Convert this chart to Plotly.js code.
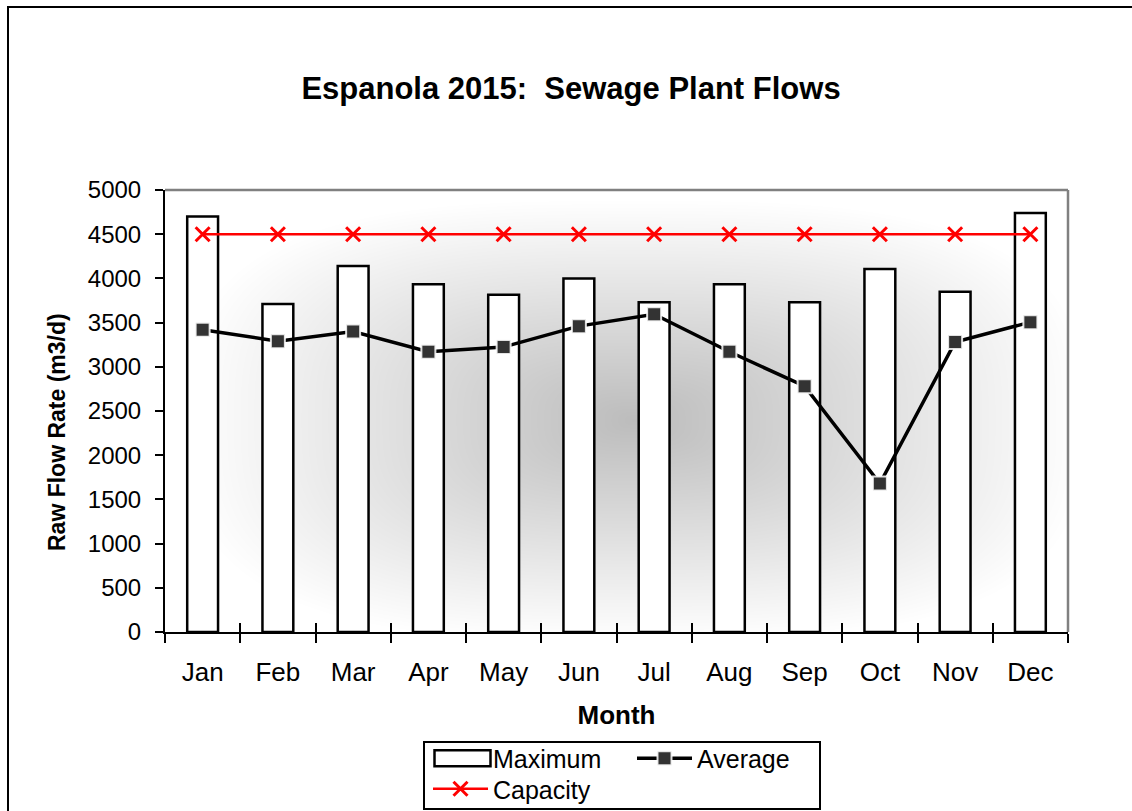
<!DOCTYPE html>
<html>
<head>
<meta charset="utf-8">
<script src="https://cdn.plot.ly/plotly-3.0.1.min.js"></script>
<style>
html,body{margin:0;padding:0;background:#fff;}
#chart{width:1132px;height:811px;}
</style>
</head>
<body>
<div id="chart"></div>
<script>
const months = ["Jan","Feb","Mar","Apr","May","Jun","Jul","Aug","Sep","Oct","Nov","Dec"];
const maximumFlow = [4700, 3710, 4140, 3935, 3815, 4000, 3730, 3935, 3730, 4105, 3850, 4740];
const averageFlow = [3420, 3290, 3400, 3170, 3225, 3460, 3595, 3170, 2780, 1680, 3280, 3505];
const capacityFlow = [4500, 4500, 4500, 4500, 4500, 4500, 4500, 4500, 4500, 4500, 4500, 4500];
const yTicks = [0, 500, 1000, 1500, 2000, 2500, 3000, 3500, 4000, 4500, 5000];

const FONT = "Liberation Sans, Arial, sans-serif";

// plot-area background: grey gradient from centre (style only)
function makeBg(w, h) {
  const c = document.createElement('canvas');
  c.width = w; c.height = h;
  const ctx = c.getContext('2d');
  const img = ctx.createImageData(w, h);
  const cx = w * 0.52, cy = h * 0.52;
  for (let y = 0; y < h; y++) {
    for (let x = 0; x < w; x++) {
      const dx = Math.abs(x - cx) / (w / 2);
      const dy = Math.abs(y - cy) / (h / 2);
      let d = Math.pow(Math.pow(dx, 3) + Math.pow(dy, 3), 1 / 3);
      d = Math.min(1, d);
      const v = Math.round(188 + 67 * d);
      const i = (y * w + x) * 4;
      img.data[i] = v; img.data[i + 1] = v; img.data[i + 2] = v; img.data[i + 3] = 255;
    }
  }
  ctx.putImageData(img, 0, 0);
  return c.toDataURL('image/png');
}

const L = 165, R = 1068, T = 190, B = 632, W = 1132, H = 811;
const pw = R - L, ph = B - T;
const px = v => (v - L) / pw;
const py = v => (B - v) / ph;

const traces = [
  {
    type: 'bar', name: 'Maximum', x: months, y: maximumFlow,
    width: 0.41,
    marker: {color: '#ffffff', line: {color: '#000000', width: 2.5}},
    legend: 'legend', hoverinfo: 'skip'
  },
  {
    type: 'scatter', mode: 'lines+markers', name: 'Average', x: months, y: averageFlow,
    line: {color: '#000000', width: 3.5},
    marker: {symbol: 'square', size: 14, color: '#333333', line: {color: 'rgba(255,255,255,0.85)', width: 2}},
    legend: 'legend', hoverinfo: 'skip'
  },
  {
    type: 'scatter', mode: 'lines+markers', name: 'Capacity', x: months, y: capacityFlow,
    line: {color: '#ff0000', width: 2.5},
    marker: {symbol: 'x-thin', size: 14, color: '#ff0000', line: {color: '#ff0000', width: 3}},
    legend: 'legend2', hoverinfo: 'skip'
  },
  {
    type: 'scatter', mode: 'markers', x: months, y: maximumFlow, xaxis: 'x2',
    marker: {opacity: 0}, showlegend: false, hoverinfo: 'skip'
  }
];

const layout = {
  width: W, height: H,
  margin: {l: L, r: W - R, t: T, b: H - B, pad: 0},
  paper_bgcolor: '#ffffff',
  plot_bgcolor: 'rgba(0,0,0,0)',
  showlegend: true,
  hovermode: false,
  font: {family: FONT, color: '#000000'},
  title: {
    text: '<b>Espanola 2015:\u00A0 Sewage Plant Flows</b>',
    font: {family: FONT, size: 31, color: '#000000'},
    xref: 'container', yref: 'container', x: 571 / W, y: 1 - 88 / H,
    xanchor: 'center', yanchor: 'middle'
  },
  xaxis: {
    type: 'category', categoryorder: 'array', categoryarray: months,
    range: [-0.5, 11.5],
    tickson: 'boundaries', ticks: 'outside', ticklen: 9, tickwidth: 2, tickcolor: '#000',
    showline: true, linecolor: '#000', linewidth: 2,
    showgrid: false, zeroline: false,
    tickfont: {family: FONT, size: 26, color: '#000'},
    ticklabelstandoff: 16,
    title: {text: '<b>Month</b>', font: {family: FONT, size: 26, color: '#000'}, standoff: 20}
  },
  xaxis2: {
    type: 'category', categoryorder: 'array', categoryarray: months,
    range: [-0.5, 11.5], overlaying: 'x', anchor: 'y', side: 'bottom',
    tickson: 'boundaries', ticks: 'inside', ticklen: 9, tickwidth: 2, tickcolor: '#000',
    showline: false, showgrid: false, zeroline: false, showticklabels: false
  },
  yaxis: {
    range: [0, 5000], tickvals: yTicks, ticktext: yTicks.map(String),
    ticks: 'outside', ticklen: 8, tickwidth: 2, tickcolor: '#000',
    showline: true, linecolor: '#000', linewidth: 2,
    showgrid: false, zeroline: false,
    tickfont: {family: FONT, size: 24, color: '#000'},
    ticklabelstandoff: 9
  },
  annotations: [{
    text: '<b>Raw Flow Rate (m3/d)</b>', textangle: -90, showarrow: false,
    xref: 'paper', yref: 'paper', x: px(57), y: py(432), xanchor: 'center', yanchor: 'middle',
    font: {family: FONT, size: 23, color: '#000'}
  }],
  legend: {
    orientation: 'h', xref: 'container', yref: 'container',
    x: 428 / W, y: 1 - 735.5 / H, xanchor: 'left', yanchor: 'top',
    bgcolor: 'rgba(0,0,0,0)', borderwidth: 0,
    font: {family: FONT, size: 25, color: '#000'},
    itemwidth: 55, entrywidth: 134, entrywidthmode: 'pixels',
    itemclick: false, itemdoubleclick: false
  },
  legend2: {
    orientation: 'h', xref: 'container', yref: 'container',
    x: 428 / W, y: 1 - 766 / H, xanchor: 'left', yanchor: 'top',
    bgcolor: 'rgba(0,0,0,0)', borderwidth: 0,
    font: {family: FONT, size: 25, color: '#000'},
    itemwidth: 55,
    itemclick: false, itemdoubleclick: false
  },
  images: [{
    source: makeBg(pw, ph), xref: 'paper', yref: 'paper',
    x: 0, y: 1, sizex: 1, sizey: 1, sizing: 'stretch',
    xanchor: 'left', yanchor: 'top', layer: 'below'
  }],
  shapes: [
    {type: 'line', xref: 'paper', yref: 'paper', x0: 0, x1: 1, y0: 1, y1: 1, line: {color: '#808080', width: 2.5}},
    {type: 'line', xref: 'paper', yref: 'paper', x0: 1, x1: 1, y0: 0, y1: 1, line: {color: '#808080', width: 2.5}},
    {type: 'rect', xref: 'paper', yref: 'paper', x0: px(8), x1: px(1300), y0: py(1000), y1: py(7),
     line: {color: '#000', width: 2}, fillcolor: 'rgba(0,0,0,0)', layer: 'above'},
    {type: 'rect', xref: 'paper', yref: 'paper', x0: px(424), x1: px(820), y0: py(809), y1: py(742),
     line: {color: '#000', width: 2}, fillcolor: 'rgba(0,0,0,0)', layer: 'above'}
  ]
};

Plotly.newPlot('chart', traces, layout, {displayModeBar: false, staticPlot: true}).then(function (gd) {
  // widen the bar legend swatch to a rectangle like the original
  const sw = gd.querySelectorAll('.legend .traces .legendpoints path');
  sw.forEach(function (p) {
    const d = p.getAttribute('d') || '';
    if (/^M6,6H-6V-6H6Z$/.test(d)) {
      p.setAttribute('d', 'M30,8H-26V-8H30Z');
      p.style.strokeWidth = '2.5px';
    }
  });
});
</script>
</body>
</html>
